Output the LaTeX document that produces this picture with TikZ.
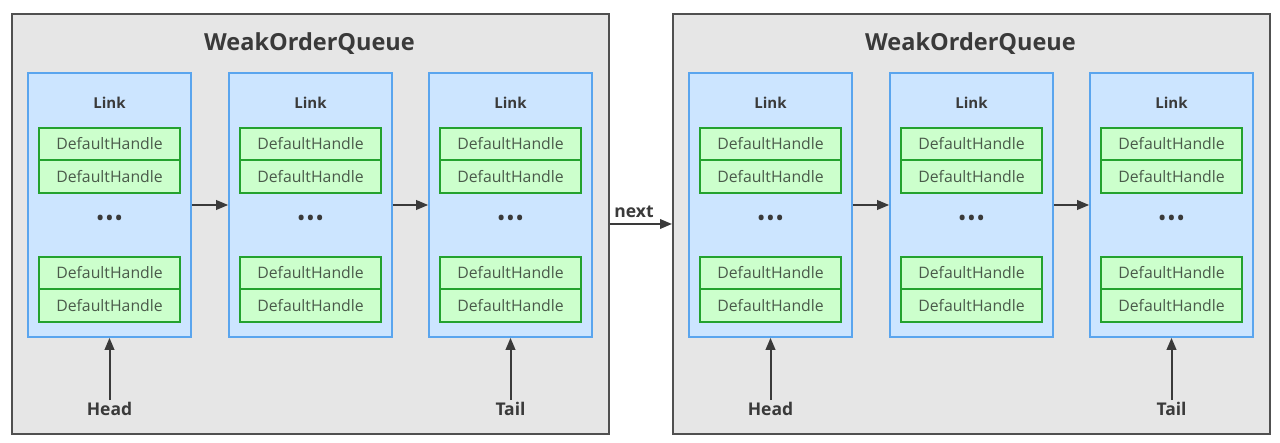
\documentclass[tikz,border=0pt]{standalone}
\usepackage{fontspec}
\setmainfont{Open Sans}
\usetikzlibrary{arrows.meta}
\definecolor{outerfill}{HTML}{E6E6E6}
\definecolor{outerdraw}{HTML}{505050}
\definecolor{linkfill}{HTML}{CCE5FF}
\definecolor{linkdraw}{HTML}{5AA5EE}
\definecolor{dhfill}{HTML}{CCFFCC}
\definecolor{dhdraw}{HTML}{24A22E}
\definecolor{dhtext}{HTML}{4A5A4A}
\definecolor{txt}{HTML}{3A3A3A}
\begin{document}
\begin{tikzpicture}[x=1pt,y=-1pt,
  outerbox/.style={draw=outerdraw,fill=outerfill,line width=2pt,minimum width=597pt,minimum height=420pt,inner sep=0pt},
  linkbox/.style={draw=linkdraw,fill=linkfill,line width=1.6pt,minimum width=163pt,minimum height=264pt,inner sep=0pt},
  dh/.style={draw=dhdraw,fill=dhfill,line width=1.6pt,minimum width=141pt,minimum height=32.5pt,inner sep=0pt,text=dhtext,font=\fontsize{15.8}{17}\selectfont},
  title/.style={text=txt,font=\fontsize{23.5}{26}\selectfont\bfseries},
  linklabel/.style={text=txt,font=\fontsize{15}{17}\selectfont\bfseries},
  endlabel/.style={text=txt,font=\fontsize{17.5}{19}\selectfont\bfseries,inner sep=2pt},
  dots/.style={text=txt,font=\fontsize{18}{20}\selectfont\bfseries},
  arr/.style={draw=txt,line width=2pt,-{Triangle[length=12pt,width=9.5pt]}}]
\useasboundingbox (0,0) rectangle (1280,443);
\fill[white] (0,0) rectangle (1280,443);
\foreach \q/\dx in {1/0,2/661}{
  \node[outerbox,anchor=north west] (q\q) at (11+\dx,13) {};
  \node[title] (q\q t) at (309.5+\dx,44) {WeakOrderQueue};
  \foreach \l/\lx in {1/28,2/229,3/429}{
    \node[linkbox] (q\q l\l) at (\lx+81.5+\dx,205) {};
    \node[linklabel] (q\q l\l t) at (\lx+81.5+\dx,103) {Link};
    \foreach \h/\hy in {1/144,2/176.5,3/273,4/305.5}{
      \node[dh] (q\q l\l h\h) at (\lx+81.5+\dx,\hy) {DefaultHandle};
    }
    \node[dots] (q\q l\l d) at (\lx+81.5+\dx,220) {•\hspace{2.5pt}•\hspace{2.5pt}•};
  }
  \draw[arr] (q\q l1) -- (q\q l2);
  \draw[arr] (q\q l2) -- (q\q l3);
  \node[endlabel] (q\q head) at (109.5+\dx,409) {Head};
  \node[endlabel] (q\q tail) at (510.5+\dx,409) {Tail};
  \draw[arr] (q\q head.north) -- (q\q l1.south);
  \draw[arr] (q\q tail.north) -- (q\q l3.south);
}
\draw[arr] (q1) -- node[endlabel,above=3pt,xshift=-7pt] (nx) {next} (q2);
\end{tikzpicture}
\end{document}
